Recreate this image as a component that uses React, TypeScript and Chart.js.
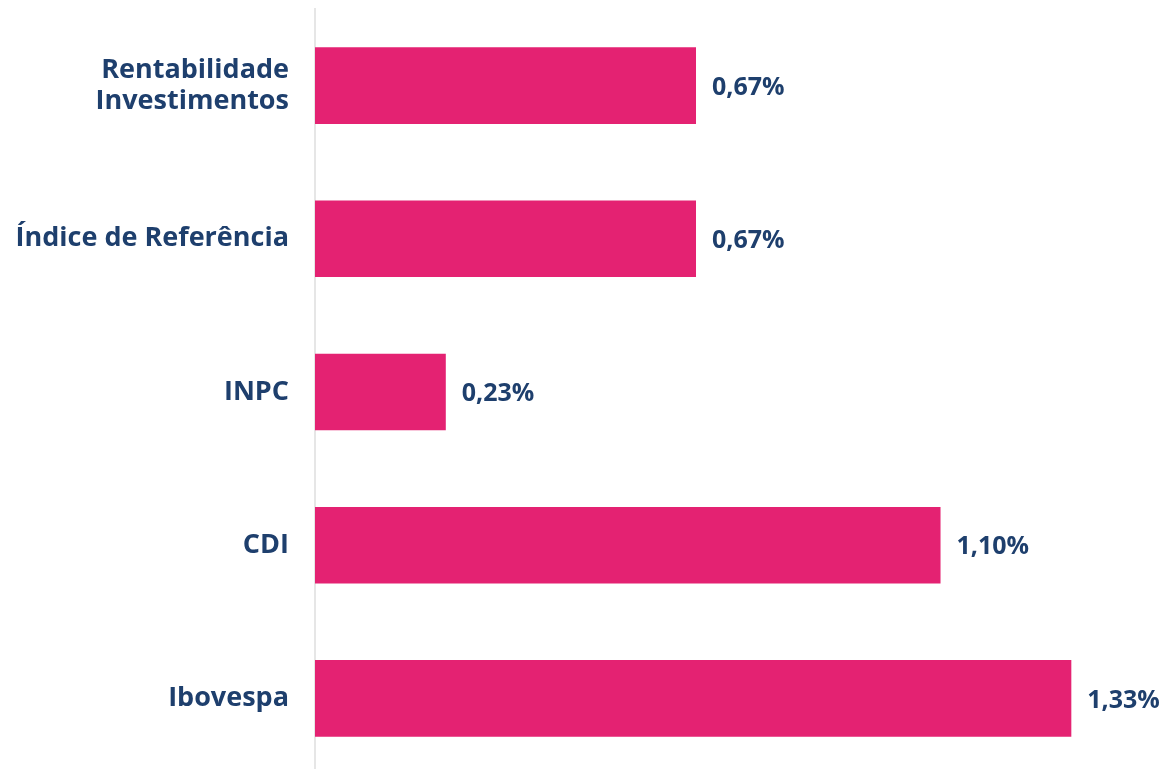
import React, { useEffect, useRef } from "react";
import { Chart, registerables } from "chart.js";

Chart.register(...registerables);

const categories: (string | string[])[] = [
  ["Rentabilidade", "Investimentos"],
  "Índice de Referência",
  "INPC",
  "CDI",
  "Ibovespa",
];
const values = [0.67, 0.67, 0.23, 1.1, 1.33];
const valueLabels = ["0,67%", "0,67%", "0,23%", "1,10%", "1,33%"];

const PINK = "#E42272";
const NAVY = "#1E3F6D";
const FONT = "'Open Sans', Lato, sans-serif";

const valueLabelPlugin = {
  id: "valueLabels",
  afterDatasetsDraw(chart: any) {
    const ctx = chart.ctx;
    const meta = chart.getDatasetMeta(0);
    ctx.save();
    ctx.fillStyle = NAVY;
    ctx.font = `bold 25px ${FONT}`;
    ctx.textAlign = "left";
    ctx.textBaseline = "middle";
    meta.data.forEach((el: any, i: number) => {
      ctx.fillText(valueLabels[i], el.x + 16, el.y + 2);
    });
    ctx.restore();
  },
};

export default function App() {
  const ref = useRef<HTMLCanvasElement | null>(null);
  useEffect(() => {
    if (!ref.current) return;
    const chart = new Chart(ref.current, {
      type: "bar",
      data: {
        labels: categories,
        datasets: [
          {
            data: values,
            backgroundColor: PINK,
            borderWidth: 0,
            barPercentage: 0.5,
            categoryPercentage: 1,
          },
        ],
      },
      options: {
        indexAxis: "y",
        animation: false,
        responsive: false,
        maintainAspectRatio: false,
        layout: { padding: { top: 9, bottom: 10, right: 0, left: 0 } },
        plugins: {
          legend: { display: false },
          tooltip: { enabled: false },
        },
        scales: {
          x: {
            display: false,
            min: 0,
            max: 1.5,
          },
          y: {
            afterFit: (scale: any) => {
              scale.width = 315;
              scale.paddingTop = 0;
              scale.paddingBottom = 0;
            },
            grid: { display: false, drawTicks: false },
            border: { display: true, color: "#E6E6E6", width: 2 },
            ticks: {
              padding: 26,
              color: NAVY,
              font: { family: FONT, size: 27, weight: "bold", lineHeight: 1.15 },
            },
          },
        },
      },
      plugins: [valueLabelPlugin],
    });
    return () => chart.destroy();
  }, []);
  return (
    <div
      style={{
        position: "fixed",
        left: 0,
        top: 0,
        width: 1168,
        height: 769,
        overflow: "hidden",
        background: "#fff",
      }}
    >
      <canvas ref={ref} width={1168} height={785} style={{ display: "block" }} />
    </div>
  );
}
